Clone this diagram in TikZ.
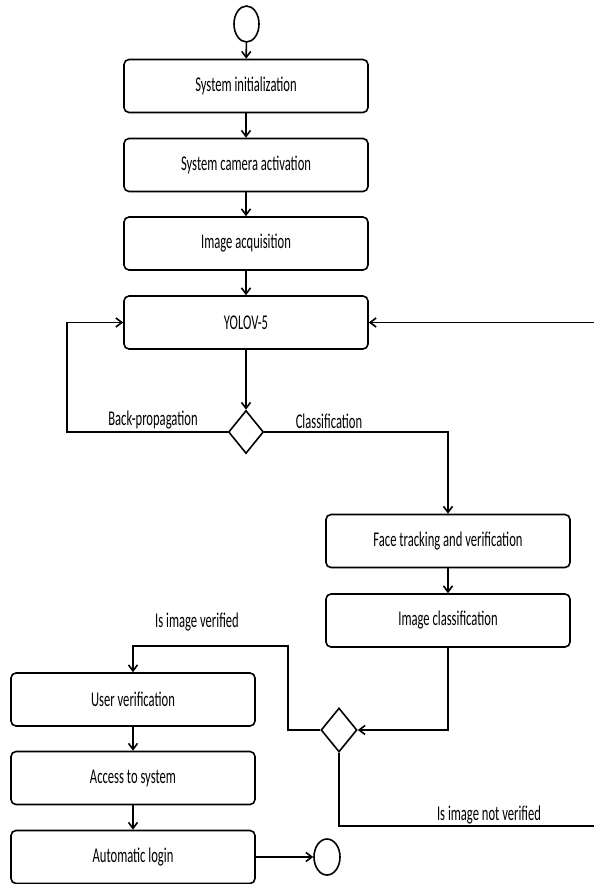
\documentclass[tikz,border=0pt]{standalone}
\usepackage{fontspec}
\setmainfont{Carlito}[FakeStretch=0.6]
\usetikzlibrary{shapes.geometric,arrows.meta}
\begin{document}
\begin{tikzpicture}[x=1pt,y=-1pt,
  lw/.style={line width=1.6pt},
  box/.style={lw, draw, rounded corners=5pt, minimum width=244pt, minimum height=53pt, inner sep=0pt, font=\fontsize{21}{24}\selectfont},
  dec/.style={lw, draw, diamond, inner sep=0pt},
  term/.style={lw, draw, ellipse, inner sep=0pt},
  arr/.style={lw, -{Straight Barb[length=6pt,width=9pt,line width=1.6pt]}},
  lbl/.style={font=\fontsize{21}{24}\selectfont, anchor=base, inner sep=0pt}]
\useasboundingbox (0,0) rectangle (594,884);
\node[term, minimum width=25pt, minimum height=36pt] (start) at (246.5,24) {};
\node[box] (b1) at (246,86) {System initialization};
\node[box] (b2) at (246,165) {System camera activation};
\node[box] (b3) at (246,243.5) {Image acquisition};
\node[box] (b4) at (246,322.5) {YOLOV-5};
\node[dec, minimum width=35pt, minimum height=43pt] (d1) at (246,432) {};
\node[box] (face) at (448,541) {Face tracking and verification};
\node[box] (cls) at (448,620.5) {Image classification};
\node[dec, minimum width=36pt, minimum height=44pt] (d2) at (339,730) {};
\node[box] (user) at (133,699.5) {User verification};
\node[box] (acc) at (133,778) {Access to system};
\node[box] (login) at (133,857) {Automatic login};
\node[term, minimum width=26pt, minimum height=36pt] (stop) at (327,857) {};
\coordinate (bl) at (67,432);
\coordinate (v1) at (288,730);
\coordinate (v2) at (288,646);
\coordinate (r1) at (597,826);
\coordinate (r2) at (597,322.5);
\node[lbl] (lbp) at (153,425) {Back-propagation};
\node[lbl] (lcl) at (329,428) {Classification};
\node[lbl] (liv) at (197,627) {Is image verified};
\node[lbl] (lnv) at (489,820) {Is image not verified};
\draw[arr] (start) -- (b1);
\draw[arr] (b1) -- (b2);
\draw[arr] (b2) -- (b3);
\draw[arr] (b3) -- (b4);
\draw[arr] (b4) -- (d1);
\draw[arr] (d1.west) -- (bl) |- (b4.west);
\draw[arr] (d1.east) -| (face.north);
\draw[arr] (face) -- (cls);
\draw[arr] (cls.south) |- (d2.east);
\draw[arr] (d2.west) -- (v1) -- (v2) -| (user.north);
\draw[arr] (user) -- (acc);
\draw[arr] (acc) -- (login);
\draw[arr] (login.east) -- (stop.west);
\draw[arr] (d2.south) |- (r1) -- (r2) -- (b4.east);
\end{tikzpicture}
\end{document}
